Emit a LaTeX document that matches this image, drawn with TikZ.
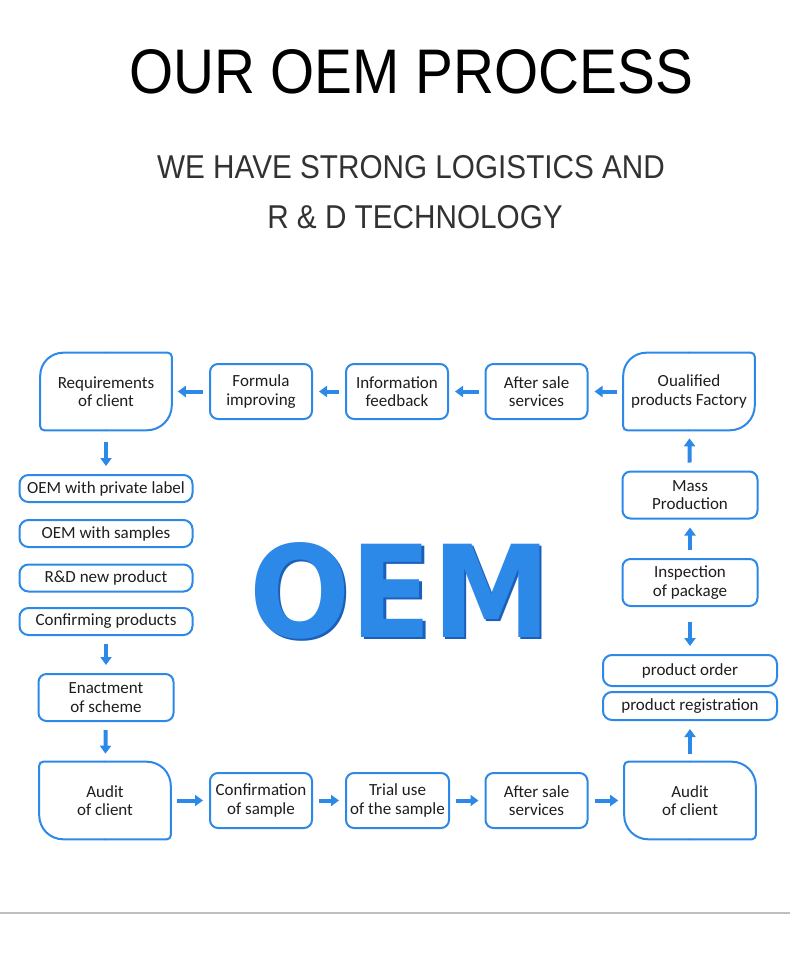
\documentclass[tikz,border=0pt]{standalone}
\usepackage{fontspec}
\setmainfont{Carlito}
\newfontfamily\headfont{Liberation Sans}
\newfontfamily\bigfont{DejaVu Sans}
\usetikzlibrary{arrows.meta,positioning}
\definecolor{oemblue}{RGB}{45,137,232}
\definecolor{oemshade}{RGB}{26,96,186}
\definecolor{subgray}{RGB}{50,50,50}
\definecolor{boxtext}{RGB}{30,30,30}

\begin{document}
\begin{tikzpicture}[x=1pt, y=-1pt, >={Triangle[length=8pt,width=11pt]}, line cap=butt, semithick]
   \tikzstyle{every node}=[inner sep=0pt, align=center, text=boxtext, font=\fontsize{17}{18.5}\selectfont]
   \tikzstyle{proc}=[draw=oemblue, line width=2pt, rounded corners=8pt, minimum width=102pt, minimum height=55pt]
   \tikzstyle{wide}=[proc, minimum width=135pt, minimum height=47pt]
   \tikzstyle{slim}=[proc, rounded corners=9pt, minimum width=173pt, minimum height=27pt]
   \tikzstyle{corner}=[minimum width=131pt, minimum height=77pt]
   \tikzstyle{frame}=[draw=oemblue, line width=2pt, line cap=round]
   \tikzstyle{flow}=[->, draw=oemblue, line width=4pt, shorten >=6pt, shorten <=6pt]
   \tikzstyle{vflow}=[flow, shorten >=8pt, shorten <=8pt]

   \fill[white] (0,0) rectangle (790,969);
   \useasboundingbox (0,0) rectangle (790,969);

   % heading
   \node[anchor=base, text=black, font=\headfont\fontsize{63}{63}\selectfont] (title) at (411,93) {\scalebox{0.9}[1]{OUR OEM PROCESS}};
   \node[anchor=base, text=subgray, font=\headfont\fontsize{33}{33}\selectfont] (sub1) at (411,178) {\scalebox{0.9}[1]{WE HAVE STRONG LOGISTICS AND}};
   \node[anchor=base, text=subgray, font=\headfont\fontsize{33}{33}\selectfont] (sub2) at (415,228) {\scalebox{0.9}[1]{R \& D TECHNOLOGY}};

   % big word in the middle, with its dark edge
   \node[text=oemblue, font=\bigfont\bfseries\fontsize{128}{128}\selectfont] (oem) at (400,592)
      {\scalebox{0.93}[1]{\makebox[0pt][l]{\hspace{2.5pt}\raisebox{-2.5pt}{\color{oemshade}OEM}}OEM}};

   % top row
   \node[corner] (req) at (106,391.5) {Requirements\\of client};
   \node[proc] (formula) at (261,391.5) {Formula\\improving};
   \node[proc] (info) at (397,391.5) {Information\\feedback};
   \node[proc] (aftertop) at (536.5,391.5) {After sale\\services};
   \node[corner] (qualified) at (689,391.5) {Oualified\\products Factory};

   % left column
   \node[slim] (private) at (106,488.5) {OEM with private label};
   \node[slim] (samples) at (106,533.5) {OEM with samples};
   \node[slim] (rnd) at (106,578) {R\&D new product};
   \node[slim] (confirming) at (106,621.5) {Confirming products};
   \node[wide] (enact) at (106,697.5) {Enactment\\of scheme};

   % right column
   \node[wide] (mass) at (690,495) {Mass\\Production};
   \node[wide] (inspect) at (690,582.5) {Inspection\\of package};
   \node[slim, minimum width=174pt, minimum height=31pt] (order) at (690,670.5) {product order};
   \node[slim, minimum width=174pt, minimum height=28pt] (register) at (690,706) {product registration};

   % bottom row
   \node[corner] (auditl) at (105,800.5) {Audit\\of client};
   \node[proc] (confsample) at (261,800.5) {Confirmation\\of sample};
   \node[proc, minimum width=103pt] (trial) at (397.5,800.5) {Trial use\\of the sample};
   \node[proc] (afterbot) at (536.5,800.5) {After sale\\services};
   \node[corner] (auditr) at (690,800.5) {Audit\\of client};

   % odd corners, one quarter at a time
   \foreach \n in {req,qualified} {
      \draw[frame, rounded corners=4pt] (\n.north) -| (\n.east);
      \draw[frame, rounded corners=25pt] (\n.east) |- (\n.south);
      \draw[frame, rounded corners=4pt] (\n.south) -| (\n.west);
      \draw[frame, rounded corners=23pt] (\n.west) |- (\n.north);
   }
   \foreach \n in {auditl,auditr} {
      \draw[frame, rounded corners=24pt] (\n.north) -| (\n.east);
      \draw[frame, rounded corners=4pt] (\n.east) |- (\n.south);
      \draw[frame, rounded corners=24pt] (\n.south) -| (\n.west);
      \draw[frame, rounded corners=4pt] (\n.west) |- (\n.north);
   }

   \path
   (qualified) edge [flow] (aftertop)
   (aftertop) edge [flow] (info)
   (info) edge [flow] (formula)
   (formula) edge [flow] (req)
   (req) edge [vflow, shorten <=12pt] (private)
   (confirming) edge [vflow] (enact)
   (enact) edge [vflow] (auditl)
   (auditl) edge [flow] (confsample)
   (confsample) edge [flow] (trial)
   (trial) edge [flow] (afterbot)
   (afterbot) edge [flow] (auditr)
   (auditr) edge [vflow] (register)
   (inspect) edge [vflow, shorten <=15pt] (order)
   (inspect) edge [vflow] (mass)
   (mass) edge [vflow] (qualified)
   ;

   % rule at the foot
   \coordinate (footl) at (0,913);
   \coordinate (footr) at (790,913);
   \draw[black!25, line width=1.2pt] (footl) -- (footr);
\end{tikzpicture}
\end{document}
